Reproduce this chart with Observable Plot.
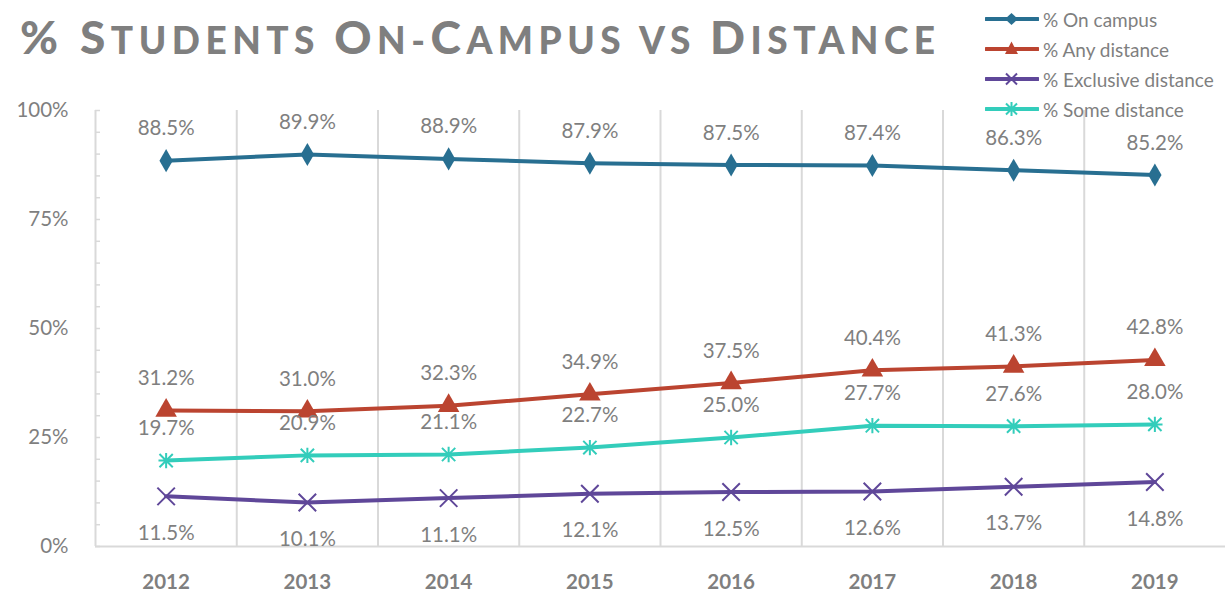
<!DOCTYPE html>
<html>
<head>
<meta charset="utf-8">
<script src="https://cdn.jsdelivr.net/npm/d3@7"></script>
<script src="https://cdn.jsdelivr.net/npm/@observablehq/plot@0.6"></script>
<style>
  html, body { margin: 0; padding: 0; background: #fff; }
  #wrap { position: relative; width: 1225px; height: 594px; overflow: hidden; font-family: Lato, "Open Sans", sans-serif; }
  #title { position: absolute; left: 20px; top: 14px; font-family: Lato, sans-serif; font-weight: 900; color: #7f7f7f; white-space: nowrap; letter-spacing: 5.5px; line-height: 1; }
  #title .big { font-size: 46px; }
  #title .sm { font-size: 37px; }
  #legend { position: absolute; left: 985px; top: 4px; }
  .lg { display: flex; align-items: center; height: 30px; font-size: 19px; color: #7f7f7f; }
  .lg svg { margin-right: 4px; }
</style>
</head>
<body>
<div id="wrap">
  <div id="chart"></div>
  <div id="title"></div>
  <div id="legend"></div>
</div>
<script>
const years = [2012, 2013, 2014, 2015, 2016, 2017, 2018, 2019];
const onCampus = [88.5, 89.9, 88.9, 87.9, 87.5, 87.4, 86.3, 85.2];
const anyDistance = [31.2, 31.0, 32.3, 34.9, 37.5, 40.4, 41.3, 42.8];
const exclusiveDistance = [11.5, 10.1, 11.1, 12.1, 12.5, 12.6, 13.7, 14.8];
const someDistance = [19.7, 20.9, 21.1, 22.7, 25.0, 27.7, 27.6, 28.0];
const seriesNames = ["% On campus", "% Any distance", "% Exclusive distance", "% Some distance"];
const seriesColors = ["#286f91", "#bb4430", "#5f4799", "#33cdbb"];
const yTicks = [0, 25, 50, 75, 100];

const asteriskSymbol = {
  draw(ctx, size) {
    const r = Math.sqrt(size) / 2;
    ctx.moveTo(-r, -r); ctx.lineTo(r, r);
    ctx.moveTo(-r, r); ctx.lineTo(r, -r);
    ctx.moveTo(0, -r * 1.15); ctx.lineTo(0, r * 1.15);
    ctx.moveTo(-r * 1.15, 0); ctx.lineTo(r * 1.15, 0);
  }
};

const seriesValues = [onCampus, anyDistance, exclusiveDistance, someDistance];
const symbols = ["diamond", "triangle", "times", asteriskSymbol];
const symbolR = [7, 8, 8, 7.5];
const labelDy = [-32, -32, 37, -32];
const gray = "#7f7f7f";

const rows = [];
seriesValues.forEach((vals, i) => vals.forEach((v, j) => rows.push({series: seriesNames[i], year: years[j], value: v})));

const marks = [
  Plot.ruleX(d3.range(2012.5, 2019, 1), {y1: 0, y2: 100, stroke: "#d9d9d9", strokeWidth: 2}),
  Plot.ruleX([2011.5], {y1: 0, y2: 100, stroke: "#d9d9d9", strokeWidth: 2}),
  Plot.ruleY([0], {stroke: "#d9d9d9", strokeWidth: 2}),
  Plot.axisY({ticks: d3.range(0, 101, 5), tickSize: 5, dx: 5, tickFormat: () => "", label: null, stroke: "#d9d9d9", strokeWidth: 1.5}),
  Plot.axisY({ticks: yTicks, tickSize: 0, tickPadding: 27, tickFormat: d => d + "%", label: null, fontSize: 20.5, fill: gray}),
  Plot.axisX({ticks: years, tickSize: 0, tickPadding: 28, tickFormat: d => String(d), label: null, fontSize: 20.5, fontWeight: "bold", fill: gray})
];
seriesNames.forEach((name, i) => {
  const data = rows.filter(r => r.series === name);
  marks.push(Plot.line(data, {x: "year", y: "value", stroke: seriesColors[i], strokeWidth: 4}));
  const sym = symbols[i];
  const filled = sym === "diamond" || sym === "triangle";
  marks.push(Plot.dot(data, {x: "year", y: "value", symbol: () => sym, r: symbolR[i],
    fill: filled ? seriesColors[i] : "none", stroke: seriesColors[i], strokeWidth: filled ? 0 : 2}));
  marks.push(Plot.text(data, {x: "year", y: "value", text: d => d.value.toFixed(1) + "%", dy: labelDy[i], fontSize: 20.5, fill: gray}));
});

const chart = Plot.plot({
  width: 1225,
  height: 594,
  marginTop: 110,
  marginBottom: 48,
  marginLeft: 95,
  marginRight: 0,
  style: {fontFamily: "Lato, 'Open Sans', sans-serif", background: "#fff"},
  x: {type: "linear", domain: [2011.5, 2019.5], axis: null, label: null},
  y: {domain: [0, 100], axis: null, label: null},
  symbol: {type: "identity"},
  marks
});
document.getElementById("chart").appendChild(chart);

// Title in small caps
const titleParts = [["big", "% "], ["big", "S"], ["sm", "TUDENTS "], ["big", "O"], ["sm", "N-"], ["big", "C"], ["sm", "AMPUS VS "], ["big", "D"], ["sm", "ISTANCE"]];
document.getElementById("title").innerHTML = titleParts.map(([c, t]) => `<span class="${c}">${t}</span>`).join("");

// Legend
const legendSyms = [
  c => `<path d="M26.5,5 L33,11 L26.5,17 L20,11Z" fill="${c}"/>`,
  c => `<path d="M26.5,3.5 L33,16 L20,16Z" fill="${c}"/>`,
  c => `<path d="M21,5.5 L32,16.5 M21,16.5 L32,5.5" stroke="${c}" stroke-width="2"/>`,
  c => `<path d="M21,5.5 L32,16.5 M21,16.5 L32,5.5 M26.5,4 L26.5,18" stroke="${c}" stroke-width="2"/>`
];
document.getElementById("legend").innerHTML = seriesNames.map((n, i) =>
  `<div class="lg"><svg width="54" height="22"><line x1="1" x2="53" y1="11" y2="11" stroke="${seriesColors[i]}" stroke-width="4" stroke-linecap="round"/>${legendSyms[i](seriesColors[i])}</svg><span>${n}</span></div>`
).join("");
</script>
</body>
</html>
